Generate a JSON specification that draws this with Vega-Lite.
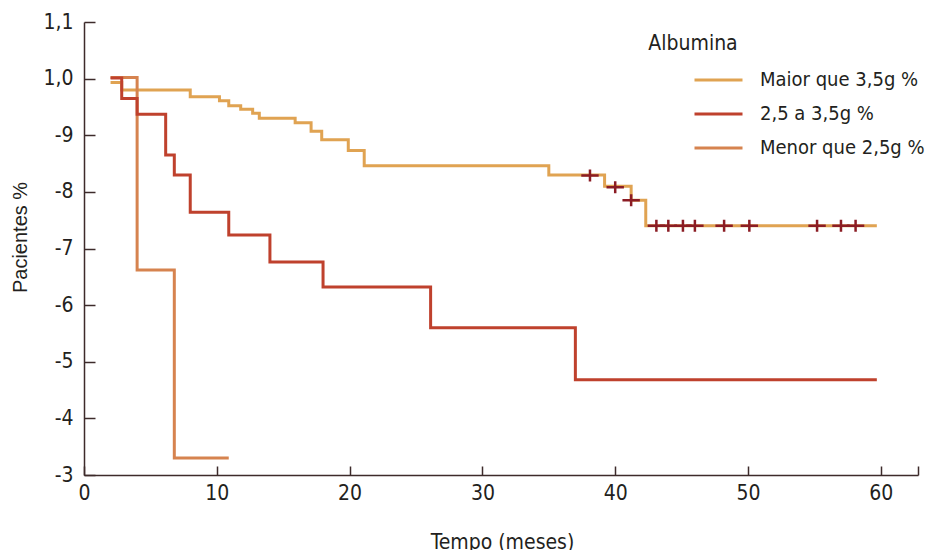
{
  "$schema": "https://vega.github.io/schema/vega-lite/v6.json",
  "width": 834,
  "height": 453,
  "autosize": {"type": "none"},
  "padding": {"left": 84, "top": 22, "right": 12, "bottom": 75},
  "background": "white",
  "datasets": {
    "curves": [
      {"grupo": "Maior que 3,5g %", "tempo": 2, "sobrevida": 0.993},
      {"grupo": "Maior que 3,5g %", "tempo": 2.84, "sobrevida": 0.980},
      {"grupo": "Maior que 3,5g %", "tempo": 8.0, "sobrevida": 0.968},
      {"grupo": "Maior que 3,5g %", "tempo": 10.2, "sobrevida": 0.961},
      {"grupo": "Maior que 3,5g %", "tempo": 10.9, "sobrevida": 0.952},
      {"grupo": "Maior que 3,5g %", "tempo": 11.8, "sobrevida": 0.946},
      {"grupo": "Maior que 3,5g %", "tempo": 12.7, "sobrevida": 0.939},
      {"grupo": "Maior que 3,5g %", "tempo": 13.2, "sobrevida": 0.930},
      {"grupo": "Maior que 3,5g %", "tempo": 15.9, "sobrevida": 0.922},
      {"grupo": "Maior que 3,5g %", "tempo": 17.1, "sobrevida": 0.907},
      {"grupo": "Maior que 3,5g %", "tempo": 17.9, "sobrevida": 0.892},
      {"grupo": "Maior que 3,5g %", "tempo": 19.9, "sobrevida": 0.873},
      {"grupo": "Maior que 3,5g %", "tempo": 21.1, "sobrevida": 0.846},
      {"grupo": "Maior que 3,5g %", "tempo": 35.0, "sobrevida": 0.830},
      {"grupo": "Maior que 3,5g %", "tempo": 39.2, "sobrevida": 0.810},
      {"grupo": "Maior que 3,5g %", "tempo": 41.2, "sobrevida": 0.785},
      {"grupo": "Maior que 3,5g %", "tempo": 42.3, "sobrevida": 0.740},
      {"grupo": "Maior que 3,5g %", "tempo": 59.7, "sobrevida": 0.740},
      {"grupo": "Menor que 2,5g %", "tempo": 2, "sobrevida": 1.002},
      {"grupo": "Menor que 2,5g %", "tempo": 4.0, "sobrevida": 0.662},
      {"grupo": "Menor que 2,5g %", "tempo": 6.8, "sobrevida": 0.330},
      {"grupo": "Menor que 2,5g %", "tempo": 10.9, "sobrevida": 0.330},
      {"grupo": "2,5 a 3,5g %", "tempo": 2, "sobrevida": 1.001},
      {"grupo": "2,5 a 3,5g %", "tempo": 2.84, "sobrevida": 0.965},
      {"grupo": "2,5 a 3,5g %", "tempo": 4.0, "sobrevida": 0.937},
      {"grupo": "2,5 a 3,5g %", "tempo": 6.15, "sobrevida": 0.865},
      {"grupo": "2,5 a 3,5g %", "tempo": 6.8, "sobrevida": 0.830},
      {"grupo": "2,5 a 3,5g %", "tempo": 8.0, "sobrevida": 0.764},
      {"grupo": "2,5 a 3,5g %", "tempo": 10.9, "sobrevida": 0.724},
      {"grupo": "2,5 a 3,5g %", "tempo": 14.0, "sobrevida": 0.676},
      {"grupo": "2,5 a 3,5g %", "tempo": 18.0, "sobrevida": 0.632},
      {"grupo": "2,5 a 3,5g %", "tempo": 26.1, "sobrevida": 0.560},
      {"grupo": "2,5 a 3,5g %", "tempo": 37.0, "sobrevida": 0.468},
      {"grupo": "2,5 a 3,5g %", "tempo": 59.7, "sobrevida": 0.468}
    ],
    "censor": [
      {"tempo": 38.1, "sobrevida": 0.829},
      {"tempo": 40.0, "sobrevida": 0.808},
      {"tempo": 41.2, "sobrevida": 0.785},
      {"tempo": 43.1, "sobrevida": 0.740},
      {"tempo": 44.0, "sobrevida": 0.740},
      {"tempo": 45.1, "sobrevida": 0.740},
      {"tempo": 46.0, "sobrevida": 0.740},
      {"tempo": 48.2, "sobrevida": 0.740},
      {"tempo": 50.1, "sobrevida": 0.740},
      {"tempo": 55.2, "sobrevida": 0.740},
      {"tempo": 57.0, "sobrevida": 0.740},
      {"tempo": 58.1, "sobrevida": 0.740}
    ]
  },
  "encoding": {
    "x": {
      "field": "tempo", "type": "quantitative",
      "scale": {"domain": [0, 62.8], "nice": false, "zero": false},
      "axis": {
        "title": "Tempo (meses)",
        "values": [0, 10, 20, 30, 40, 50, 60, 62.8],
        "labelExpr": "datum.value > 61 ? '' : datum.label",
        "labelFlush": false,
        "tickSize": -9,
        "labelPadding": 16,
        "titleX": 418, "titleY": 73,
        "titleBaseline": "alphabetic", "titleAlign": "center",
        "titleFont": "DejaVu Sans Condensed", "titleFontSize": 21, "titleFontWeight": "normal"
      }
    },
    "y": {
      "field": "sobrevida", "type": "quantitative",
      "scale": {"domain": [0.3, 1.1], "nice": false, "zero": false},
      "axis": {
        "title": "Pacientes %",
        "values": [0.3, 0.4, 0.5, 0.6, 0.7, 0.8, 0.9, 1.0, 1.1],
        "labelExpr": "datum.value >= 0.99 ? replace(format(datum.value, '.1f'), '.', ',') : '-' + round(datum.value * 10)",
        "labelFlush": false,
        "tickSize": -11,
        "labelPadding": 22,
        "titleX": -64, "titleY": 215, "titleAngle": -90,
        "titleAlign": "center", "titleBaseline": "middle",
        "titleFont": "Liberation Sans", "titleFontSize": 20, "titleFontWeight": "normal"
      }
    }
  },
  "layer": [
    {
      "data": {"name": "curves"},
      "mark": {"type": "line", "interpolate": "step-after", "strokeWidth": 3},
      "encoding": {
        "color": {
          "field": "grupo", "type": "nominal",
          "scale": {
            "domain": ["Maior que 3,5g %", "2,5 a 3,5g %", "Menor que 2,5g %"],
            "range": ["#E0A352", "#BF412D", "#D6834F"]
          },
          "legend": {
            "title": "Albumina",
            "orient": "none",
            "legendX": 564,
            "legendY": 11,
            "titleAnchor": "start",
            "titleAlign": "center",
            "titleBaseline": "top",
            "titleFont": "DejaVu Sans Condensed",
            "titleFontSize": 21,
            "titleFontWeight": "normal",
            "titleColor": "#231f20",
            "titlePadding": 14,
            "symbolType": "stroke",
            "symbolSize": 2304,
            "symbolStrokeWidth": 3,
            "clipHeight": 24,
            "rowPadding": 10,
            "labelOffset": 16,
            "labelFont": "DejaVu Sans Condensed",
            "labelFontSize": 20,
            "labelColor": "#231f20",
            "labelLimit": 300
          }
        },
        "order": {"field": "tempo", "type": "quantitative"}
      }
    },
    {
      "data": {"name": "censor"},
      "mark": {
        "type": "point",
        "shape": "M-1.45,0H1.45M0,-1V1",
        "size": 144,
        "filled": false,
        "strokeWidth": 2.5,
        "color": "#8B1C24",
        "opacity": 1
      },
      "encoding": {}
    }
  ],
  "config": {
    "view": {"stroke": null},
    "axis": {
      "grid": false,
      "domainColor": "#3d2b2b",
      "domainWidth": 1.5,
      "tickColor": "#3d2b2b",
      "tickWidth": 1.5,
      "labelFont": "DejaVu Sans Condensed",
      "labelFontSize": 21,
      "labelColor": "#231f20",
      "titleColor": "#231f20"
    }
  }
}
